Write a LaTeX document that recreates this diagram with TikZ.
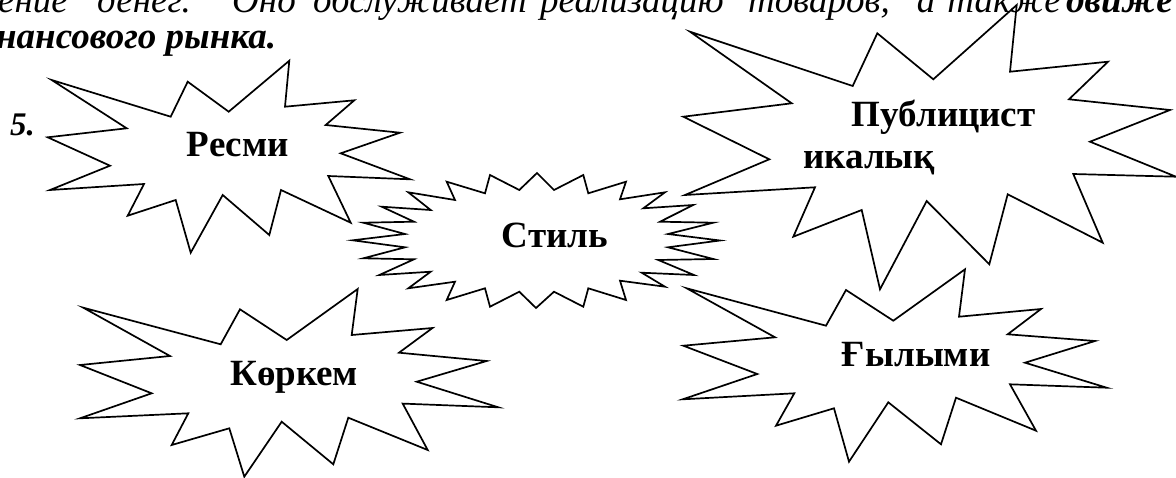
\documentclass[tikz,border=0pt]{standalone}
\usepackage{fontspec}
\setmainfont{Liberation Serif}
\tikzset{
  star/.style={draw=black, line width=1.7pt, line join=miter},
  lbl/.style={inner sep=0pt, anchor=base west, font=\fontsize{37}{42}\selectfont\bfseries},
  body/.style={inner sep=0pt, anchor=base, font=\fontsize{37}{42}\selectfont\itshape},
  bodyb/.style={inner sep=0pt, anchor=base west, font=\fontsize{37}{42}\selectfont\bfseries\itshape},
}
\begin{document}
\begin{tikzpicture}[x=1pt,y=-1pt]
\useasboundingbox (0,0) rectangle (1176,477);
\clip (0,0) rectangle (1176,477);
\fill[white] (0,0) rectangle (1176,477);
% top text (cut off)
\node[body, anchor=base east] (w1) at (68,12) {жение};
\node[body] (w2) at (144,12) {денег.};
\node[body] (w3) at (264,12) {Оно};
\node[body] (w4) at (420,12) {обслуживает};
\node[body] (w5) at (632,12) {реализацию};
\node[body] (w6) at (819,12) {товаров,};
\node[body] (w7) at (926,12) {а};
\node[body] (w8) at (1004,12) {также};
\node[bodyb] (w9) at (1066,12) {движе};
\node[bodyb] (w10) at (-4,48) {нансового рынка.};
\node[inner sep=0pt, anchor=base west, font=\fontsize{33}{36}\selectfont\bfseries\itshape] (num) at (10,135) {5.};
% stars
\path[star] (51.7,80) -- (170.7,116.7) -- (187.7,81.7) -- (228.7,111.7) -- (289.3,60.7) -- (285,106.7) -- (354.3,100.3) -- (325.7,125) -- (400,132.7) -- (340.7,153.3) -- (410,179.3) -- (328.3,176) -- (350.7,222.7) -- (281,190) -- (269.3,235) -- (222.7,195) -- (190.7,252.7) -- (175.7,200) -- (127.7,215.7) -- (144,184) -- (50,190) -- (110,165.7) -- (47.7,137.3) -- (126.7,128.3) -- cycle;
\path[star] (690,31.7) -- (852.7,86) -- (877.3,33.3) -- (933.3,79.3) -- (1016.7,5) -- (1010,71.7) -- (1108,61.7) -- (1069,99.3) -- (1170,110) -- (1090,141.7) -- (1176,176.7) -- (1073.3,174) -- (1102.7,242.7) -- (1007.7,194.3) -- (989.3,264.3) -- (926.7,201) -- (880,289.3) -- (861.7,210) -- (793.3,236.7) -- (815,187.3) -- (685,195) -- (769.3,159.3) -- (683.3,116.7) -- (791.7,103.3) -- cycle;
\path[star] (83.3,307.7) -- (220.7,344.3) -- (240,309.3) -- (286.7,340) -- (357.7,289) -- (351.7,335) -- (432.5,328) -- (399,352.7) -- (486.7,361) -- (416.7,381.7) -- (498.3,407.3) -- (402.7,403.6) -- (427.7,450) -- (348.3,417.7) -- (333.3,464.3) -- (281.7,421.7) -- (244.3,476.7) -- (229.3,428.3) -- (171.7,445) -- (188.3,413.3) -- (80,418.3) -- (151.7,393.3) -- (80,365) -- (170,356) -- cycle;
\path[star] (686.7,288.3) -- (826,325.7) -- (846,290) -- (893.3,320.7) -- (965,269.3) -- (959,316.7) -- (1041,309) -- (1007.7,334.3) -- (1095,341) -- (1025,362.7) -- (1106.7,387.7) -- (1010,384.3) -- (1036,430.7) -- (956,397.7) -- (941,444.3) -- (888.3,402.3) -- (849,461.7) -- (834,408.3) -- (776,425.7) -- (794.3,393.3) -- (682.7,399.3) -- (757.3,374) -- (683.3,345.7) -- (775,337.3) -- cycle;
\path[star] (537,173) -- (554,190) -- (583.3,175) -- (588.3,193.3) -- (626,181.7) -- (620,199.3) -- (665,192.3) -- (643.3,208.3) -- (693.3,205) -- (660,221.7) -- (713.3,222.7) -- (668,234) -- (720,240.5) -- (668,247.3) -- (713.3,259) -- (658.3,260) -- (694,275) -- (641.7,272.7) -- (665,286.7) -- (620,280.7) -- (626,300) -- (588.3,288.3) -- (583.3,306.7) -- (554,291.7) -- (536,308) -- (519.3,291.7) -- (490,306.7) -- (485,288.3) -- (446.7,300) -- (455,281.7) -- (408.3,288.3) -- (430.7,271.7) -- (379.3,275) -- (414,259.3) -- (363.3,258.3) -- (405,247.3) -- (352.7,240.3) -- (405,234) -- (363.3,222.7) -- (414,221.7) -- (381.7,206.7) -- (430.7,210) -- (408.3,192.3) -- (455,200) -- (446.7,181.7) -- (485,193.3) -- (490,175) -- (519.3,190) -- cycle;
% labels
\node[lbl] (resmi) at (186.7,156.7) {Ресми};
\node[lbl] (stil) at (501.7,247.3) {Стиль};
\node[lbl] (publ1) at (851.7,126) {Публицист};
\node[lbl] (publ2) at (803,168.3) {икалық};
\node[lbl] (korkem) at (230,385) {Көркем};
\node[lbl] (gylymi) at (841.7,366) {Ғылыми};
\end{tikzpicture}
\end{document}
